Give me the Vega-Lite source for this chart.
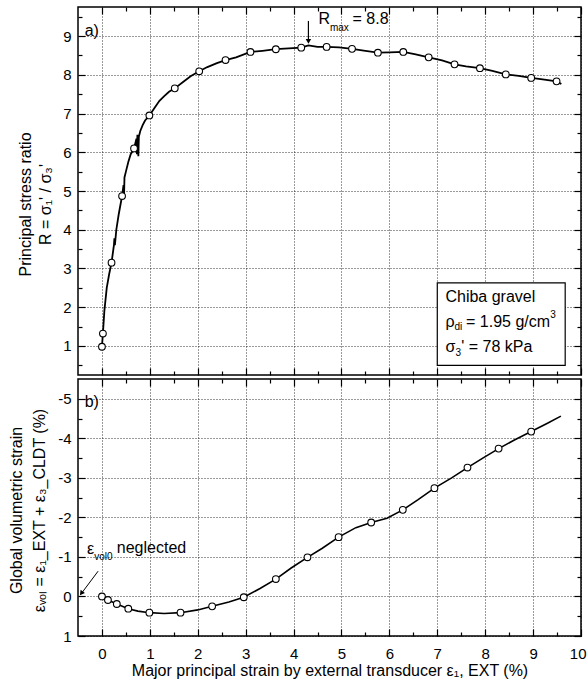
{
  "$schema": "https://vega.github.io/schema/vega-lite/v6.json",
  "padding": {"left": 7, "top": 5, "right": 0, "bottom": 0},
  "background": "white",
  "config": {
    "font": "Liberation Sans",
    "view": {"stroke": "black", "strokeWidth": 1.5},
    "axis": {
      "domain": false, "tickColor": "black", "tickWidth": 1.2,
      "labelColor": "black", "labelFontSize": 15, "labelFont": "Liberation Sans",
      "titleFontSize": 16, "titleFontWeight": "normal", "titleColor": "black", "titleFont": "Liberation Sans",
      "gridColor": "black", "gridDash": [1, 2], "gridWidth": 0.8
    },
    "text": {"font": "Liberation Sans", "fontSize": 16, "color": "black", "align": "left", "baseline": "middle"}
  },
  "datasets": {
    "curveR": [
      {"x": 0, "y": 0.98}, {"x": 0.02, "y": 1.32}, {"x": 0.05, "y": 1.9}, {"x": 0.1, "y": 2.5}, {"x": 0.15, "y": 2.85},
      {"x": 0.2, "y": 3.15}, {"x": 0.25, "y": 3.6}, {"x": 0.26, "y": 3.78}, {"x": 0.27, "y": 3.6}, {"x": 0.3, "y": 4.0},
      {"x": 0.35, "y": 4.4}, {"x": 0.42, "y": 4.87}, {"x": 0.45, "y": 5.15}, {"x": 0.46, "y": 4.8}, {"x": 0.47, "y": 5.35},
      {"x": 0.5, "y": 5.5}, {"x": 0.55, "y": 5.75}, {"x": 0.6, "y": 5.95}, {"x": 0.67, "y": 6.1}, {"x": 0.72, "y": 6.35},
      {"x": 0.73, "y": 5.95}, {"x": 0.74, "y": 6.45}, {"x": 0.76, "y": 5.9}, {"x": 0.77, "y": 6.4}, {"x": 0.8, "y": 6.55},
      {"x": 0.85, "y": 6.7}, {"x": 0.9, "y": 6.82}, {"x": 0.99, "y": 6.95}, {"x": 1.1, "y": 7.15}, {"x": 1.2, "y": 7.33},
      {"x": 1.3, "y": 7.45}, {"x": 1.4, "y": 7.56}, {"x": 1.52, "y": 7.65}, {"x": 1.7, "y": 7.82}, {"x": 1.85, "y": 7.96},
      {"x": 2.03, "y": 8.09}, {"x": 2.2, "y": 8.2}, {"x": 2.4, "y": 8.3}, {"x": 2.58, "y": 8.38}, {"x": 2.8, "y": 8.45},
      {"x": 3.1, "y": 8.59}, {"x": 3.35, "y": 8.62}, {"x": 3.63, "y": 8.66}, {"x": 3.9, "y": 8.68}, {"x": 4.16, "y": 8.7},
      {"x": 4.31, "y": 8.76}, {"x": 4.5, "y": 8.72}, {"x": 4.69, "y": 8.72}, {"x": 4.95, "y": 8.71}, {"x": 5.22, "y": 8.67},
      {"x": 5.5, "y": 8.62}, {"x": 5.76, "y": 8.57}, {"x": 6.0, "y": 8.58}, {"x": 6.29, "y": 8.59}, {"x": 6.55, "y": 8.53},
      {"x": 6.82, "y": 8.45}, {"x": 7.1, "y": 8.37}, {"x": 7.36, "y": 8.27}, {"x": 7.6, "y": 8.22}, {"x": 7.89, "y": 8.17},
      {"x": 8.15, "y": 8.1}, {"x": 8.43, "y": 8.01}, {"x": 8.7, "y": 7.97}, {"x": 8.96, "y": 7.92}, {"x": 9.2, "y": 7.88},
      {"x": 9.49, "y": 7.83}, {"x": 9.59, "y": 7.76}
    ],
    "markersR": [
      {"x": 0, "y": 0.98}, {"x": 0.02, "y": 1.32}, {"x": 0.2, "y": 3.15}, {"x": 0.42, "y": 4.87}, {"x": 0.67, "y": 6.1},
      {"x": 0.99, "y": 6.95}, {"x": 1.52, "y": 7.65}, {"x": 2.03, "y": 8.09}, {"x": 2.58, "y": 8.38}, {"x": 3.1, "y": 8.59},
      {"x": 3.63, "y": 8.66}, {"x": 4.16, "y": 8.7}, {"x": 4.69, "y": 8.72}, {"x": 5.22, "y": 8.67}, {"x": 5.76, "y": 8.57},
      {"x": 6.29, "y": 8.59}, {"x": 6.82, "y": 8.45}, {"x": 7.36, "y": 8.27}, {"x": 7.89, "y": 8.17}, {"x": 8.43, "y": 8.01},
      {"x": 8.96, "y": 7.92}, {"x": 9.49, "y": 7.83}
    ],
    "boxR": [{"x1": 7.0, "x2": 9.67, "y1": 0.5, "y2": 2.63}],
    "arrowR": [{"x": 4.31, "y1": 9.39, "y2": 8.86}],
    "textR": [
      {"x": -0.36, "y": 9.12, "t": "a)"},
      {"x": 7.17, "y": 2.26, "t": "Chiba gravel"},
      {"x": 7.17, "y": 1.62, "t": "ρ"},
      {"x": 7.6, "y": 1.62, "t": "= 1.95 g/cm"},
      {"x": 7.17, "y": 0.97, "t": "σ"},
      {"x": 7.5, "y": 0.97, "t": "' = 78 kPa"},
      {"x": 4.52, "y": 9.45, "t": "R"},
      {"x": 5.23, "y": 9.45, "t": "= 8.8"}
    ],
    "smallR": [
      {"x": 7.36, "y": 1.5, "t": "di"},
      {"x": 7.38, "y": 0.82, "t": "3"},
      {"x": 9.36, "y": 1.8, "t": "3"},
      {"x": 4.76, "y": 9.22, "t": "max"}
    ],
    "curveV": [
      {"x": 0, "y": 0}, {"x": 0.125, "y": 0.09}, {"x": 0.31, "y": 0.19}, {"x": 0.55, "y": 0.31}, {"x": 0.75, "y": 0.37},
      {"x": 0.99, "y": 0.41}, {"x": 1.3, "y": 0.43}, {"x": 1.64, "y": 0.41}, {"x": 2.0, "y": 0.34}, {"x": 2.3, "y": 0.25},
      {"x": 2.65, "y": 0.14}, {"x": 2.96, "y": 0.02}, {"x": 3.3, "y": -0.2}, {"x": 3.63, "y": -0.44}, {"x": 3.95, "y": -0.72},
      {"x": 4.29, "y": -0.99}, {"x": 4.6, "y": -1.22}, {"x": 4.94, "y": -1.5}, {"x": 5.3, "y": -1.74}, {"x": 5.62, "y": -1.87},
      {"x": 5.95, "y": -1.98}, {"x": 6.28, "y": -2.19}, {"x": 6.6, "y": -2.45}, {"x": 6.94, "y": -2.74}, {"x": 7.3, "y": -3.0},
      {"x": 7.63, "y": -3.26}, {"x": 7.95, "y": -3.5}, {"x": 8.28, "y": -3.74}, {"x": 8.6, "y": -3.95}, {"x": 8.96, "y": -4.17},
      {"x": 9.3, "y": -4.38}, {"x": 9.58, "y": -4.56}
    ],
    "markersV": [
      {"x": 0, "y": 0}, {"x": 0.125, "y": 0.09}, {"x": 0.31, "y": 0.19}, {"x": 0.55, "y": 0.31}, {"x": 0.99, "y": 0.41},
      {"x": 1.64, "y": 0.41}, {"x": 2.3, "y": 0.25}, {"x": 2.96, "y": 0.02}, {"x": 3.63, "y": -0.44}, {"x": 4.29, "y": -0.99},
      {"x": 4.94, "y": -1.5}, {"x": 5.62, "y": -1.87}, {"x": 6.28, "y": -2.19}, {"x": 6.94, "y": -2.74}, {"x": 7.63, "y": -3.26},
      {"x": 8.28, "y": -3.74}, {"x": 8.96, "y": -4.17}
    ],
    "arrowV": [{"x1": -0.08, "y1": -0.64, "x2": -0.42, "y2": -0.09}],
    "headV": [{"x": -0.43, "y": -0.08}],
    "textV": [
      {"x": -0.36, "y": -4.93, "t": "b)"},
      {"x": -0.31, "y": -1.2, "t": "ε"},
      {"x": 0.31, "y": -1.22, "t": "neglected"}
    ],
    "smallV": [{"x": -0.16, "y": -0.99, "t": "vol0"}]
  },
  "spacing": 4,
  "bounds": "flush",
  "vconcat": [
    {
      "width": 503,
      "height": 368,
      "resolve": {"axis": {"x": "independent", "y": "independent"}},
      "layer": [
        {
          "data": {"name": "curveR"},
          "mark": {"type": "line", "color": "black", "strokeWidth": 1.8},
          "encoding": {
            "x": {"field": "x", "type": "quantitative", "scale": {"domain": [-0.5, 10], "nice": false, "zero": false},
              "axis": {"orient": "bottom", "values": [0, 1, 2, 3, 4, 5, 6, 7, 8, 9, 10], "labels": false, "tickSize": -7, "grid": true, "title": null}},
            "y": {"field": "y", "type": "quantitative", "scale": {"domain": [0.25, 9.75], "nice": false, "zero": false},
              "axis": {"orient": "left", "values": [1, 2, 3, 4, 5, 6, 7, 8, 9], "tickSize": -7, "labelPadding": 14, "grid": true,
                "title": ["Principal stress ratio", "R = σ₁' / σ₃'"], "titleLineHeight": 20, "titleX": -45, "titleY": 197}}
          }
        },
        {
          "data": {"name": "markersR"},
          "mark": {"type": "point", "shape": "circle", "filled": true, "fill": "white", "stroke": "black", "strokeWidth": 1.1, "size": 45, "opacity": 1},
          "encoding": {
            "x": {"field": "x", "type": "quantitative",
              "axis": {"orient": "bottom", "values": [0.5, 1.5, 2.5, 3.5, 4.5, 5.5, 6.5, 7.5, 8.5, 9.5], "labels": false, "tickSize": -4, "grid": false, "title": null}},
            "y": {"field": "y", "type": "quantitative",
              "axis": {"orient": "left", "values": [0.5, 1.5, 2.5, 3.5, 4.5, 5.5, 6.5, 7.5, 8.5, 9.5], "labels": false, "tickSize": -4, "grid": false, "title": null}}
          }
        },
        {
          "data": {"name": "boxR"},
          "mark": {"type": "rect", "fill": "white", "stroke": "black", "strokeWidth": 1.2},
          "encoding": {
            "x": {"field": "x1", "type": "quantitative",
              "axis": {"orient": "top", "values": [0, 1, 2, 3, 4, 5, 6, 7, 8, 9, 10], "labels": false, "tickSize": -7, "grid": false, "title": null}},
            "x2": {"field": "x2"},
            "y": {"field": "y1", "type": "quantitative",
              "axis": {"orient": "right", "values": [1, 2, 3, 4, 5, 6, 7, 8, 9], "labels": false, "tickSize": -7, "grid": false, "title": null}},
            "y2": {"field": "y2"}
          }
        },
        {
          "data": {"name": "arrowR"},
          "mark": {"type": "rule", "color": "black", "strokeWidth": 1.2},
          "encoding": {
            "x": {"field": "x", "type": "quantitative",
              "axis": {"orient": "top", "values": [0.5, 1.5, 2.5, 3.5, 4.5, 5.5, 6.5, 7.5, 8.5, 9.5], "labels": false, "tickSize": -4, "grid": false, "title": null}},
            "y": {"field": "y1", "type": "quantitative",
              "axis": {"orient": "right", "values": [0.5, 1.5, 2.5, 3.5, 4.5, 5.5, 6.5, 7.5, 8.5, 9.5], "labels": false, "tickSize": -4, "grid": false, "title": null}},
            "y2": {"field": "y2"}
          }
        },
        {
          "data": {"name": "arrowR"},
          "mark": {"type": "point", "shape": "triangle-down", "filled": true, "color": "black", "size": 30, "opacity": 1},
          "encoding": {
            "x": {"field": "x", "type": "quantitative", "axis": null},
            "y": {"field": "y2", "type": "quantitative", "axis": null}
          }
        },
        {
          "data": {"name": "textR"},
          "mark": {"type": "text", "fontSize": 16},
          "encoding": {
            "x": {"field": "x", "type": "quantitative", "axis": null},
            "y": {"field": "y", "type": "quantitative", "axis": null},
            "text": {"field": "t"}
          }
        },
        {
          "data": {"name": "smallR"},
          "mark": {"type": "text", "fontSize": 10},
          "encoding": {
            "x": {"field": "x", "type": "quantitative", "axis": null},
            "y": {"field": "y", "type": "quantitative", "axis": null},
            "text": {"field": "t"}
          }
        }
      ]
    },
    {
      "width": 503,
      "height": 257,
      "resolve": {"axis": {"x": "independent", "y": "independent"}},
      "layer": [
        {
          "data": {"name": "curveV"},
          "mark": {"type": "line", "color": "black", "strokeWidth": 1.6},
          "encoding": {
            "x": {"field": "x", "type": "quantitative", "scale": {"domain": [-0.5, 10], "nice": false, "zero": false},
              "axis": {"orient": "bottom", "values": [0, 1, 2, 3, 4, 5, 6, 7, 8, 9, 10], "tickSize": -7, "labelPadding": 17, "labelFlush": true, "labelFlushOffset": 5, "grid": true,
                "title": "Major principal strain by external transducer ε₁, EXT (%)", "titlePadding": 1}},
            "y": {"field": "y", "type": "quantitative", "scale": {"domain": [-5.5, 1], "nice": false, "zero": false, "reverse": true},
              "axis": {"orient": "left", "values": [-5, -4, -3, -2, -1, 0, 1], "labelExpr": "'' + datum.value", "tickSize": -7, "labelPadding": 14, "grid": true,
                "title": ["Global volumetric strain", "εᵥₒₗ = ε₁_EXT + ε₃_CLDT (%)"], "titleLineHeight": 23, "titleX": -54, "titleY": 131}}
          }
        },
        {
          "data": {"name": "markersV"},
          "mark": {"type": "point", "shape": "circle", "filled": true, "fill": "white", "stroke": "black", "strokeWidth": 1.1, "size": 45, "opacity": 1},
          "encoding": {
            "x": {"field": "x", "type": "quantitative",
              "axis": {"orient": "bottom", "values": [0.5, 1.5, 2.5, 3.5, 4.5, 5.5, 6.5, 7.5, 8.5, 9.5], "labels": false, "tickSize": -4, "grid": false, "title": null}},
            "y": {"field": "y", "type": "quantitative",
              "axis": {"orient": "left", "values": [-4.5, -3.5, -2.5, -1.5, -0.5, 0.5], "labels": false, "tickSize": -4, "grid": false, "title": null}}
          }
        },
        {
          "data": {"name": "arrowV"},
          "mark": {"type": "rule", "color": "black", "strokeWidth": 1},
          "encoding": {
            "x": {"field": "x1", "type": "quantitative",
              "axis": {"orient": "top", "values": [0, 1, 2, 3, 4, 5, 6, 7, 8, 9, 10], "labels": false, "tickSize": -7, "grid": false, "title": null}},
            "x2": {"field": "x2"},
            "y": {"field": "y1", "type": "quantitative",
              "axis": {"orient": "right", "values": [-5, -4, -3, -2, -1, 0, 1], "labels": false, "tickSize": -7, "grid": false, "title": null}},
            "y2": {"field": "y2"}
          }
        },
        {
          "data": {"name": "headV"},
          "mark": {"type": "point", "shape": "triangle-up", "filled": true, "color": "black", "size": 30, "angle": 217, "opacity": 1},
          "encoding": {
            "x": {"field": "x", "type": "quantitative",
              "axis": {"orient": "top", "values": [0.5, 1.5, 2.5, 3.5, 4.5, 5.5, 6.5, 7.5, 8.5, 9.5], "labels": false, "tickSize": -4, "grid": false, "title": null}},
            "y": {"field": "y", "type": "quantitative",
              "axis": {"orient": "right", "values": [-4.5, -3.5, -2.5, -1.5, -0.5, 0.5], "labels": false, "tickSize": -4, "grid": false, "title": null}}
          }
        },
        {
          "data": {"name": "textV"},
          "mark": {"type": "text", "fontSize": 16},
          "encoding": {
            "x": {"field": "x", "type": "quantitative", "axis": null},
            "y": {"field": "y", "type": "quantitative", "axis": null},
            "text": {"field": "t"}
          }
        },
        {
          "data": {"name": "smallV"},
          "mark": {"type": "text", "fontSize": 10},
          "encoding": {
            "x": {"field": "x", "type": "quantitative", "axis": null},
            "y": {"field": "y", "type": "quantitative", "axis": null},
            "text": {"field": "t"}
          }
        }
      ]
    }
  ]
}
